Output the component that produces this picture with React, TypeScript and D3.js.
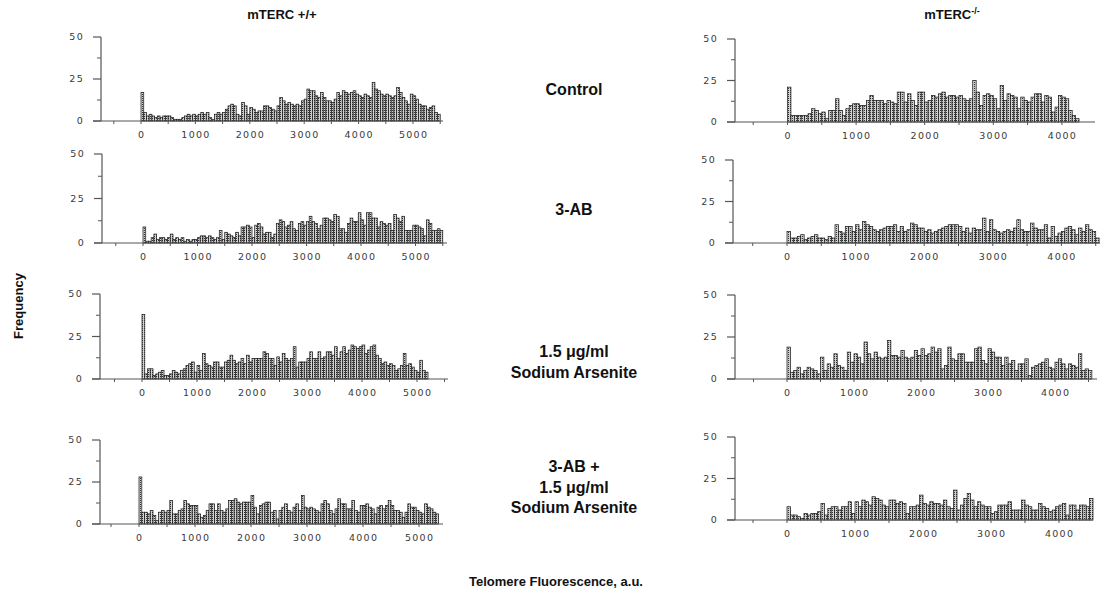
import React from 'react';
import * as d3 from 'd3';

const BIN = 50;
const Y_TICKS = [0, 25, 50];
const Y_MINOR = [12.5, 37.5];

// mTERC +/+ Control
const wtControl = [17,5,3,4, 3,2,3,2,3, 3,3,2,1, 1,1,2,3, 4,3,4,3, 4,5,4,5, 2,1,4,5, 4,5,7,9, 10,9,4,3, 11,9,4,8, 7,5,6,6, 9,9,8,7, 6,9,14,12, 10,11,10,9, 10,9,12,13, 19,18,18,15, 14,17,14,12, 12,11,13,17, 15,18,17,16, 17,18,16,15, 14,16,15,14, 23,19,18,16, 15,16,15,14, 15,20,17,14, 12,10,16,15, 13,10,9,9, 7,8,9,5,4];
// mTERC -/- Control
const koControl = [21, 4,4,4,4,4,5, 8, 7,5,6, 2,7, 7, 14, 7,4, 8,10,11, 11,10,10, 13,16,13, 13,13,11, 13,12,11, 18,18,12, 17,13,10, 18,18,12, 13,16,15, 17,18,15, 16,16,15, 16,14,13, 14,25, 18,10,16, 17,16,14, 8,22,13, 17,16,15, 8,15,13, 12,15,17, 17,12,16, 15,6,9, 16,15,14, 7,4,2];
// mTERC +/+ 3-AB
const wt3AB = [9, 1,1,3, 5,2,3,3, 2,3,5,2, 3,2,3,1,2, 1,2,2,3, 4,4,3,4, 3,2,3,7, 2,6,5,4, 3,6,4,9,9, 10,9,3,10, 11,9,5,6, 6,3,5,11, 13,12,9,10, 12,8,7,11, 12,10,12,15, 12,11,8,10, 14,14,13,12, 16,15,8,8, 6,11,14,12, 12,17,13,10, 17,17,14,14, 9,12,11,10, 11,7,16,14, 12,15,7,7, 7,10,10,9, 8,4,13,11, 7,7,8,7];
// mTERC -/- 3-AB
const ko3AB = [7,3,3,4,5,2,3,4,5,3,3,2,4,3, 11,7,6,10,10,7,11,8,13,11,10,8,7,8,9,10,10,11,7,10,7,8,12,11,9,9,7,8,6,7,8,9,10,11,11,11,10,7,9,6,9,8,8, 15,7,14,8,7,6,7,8,7,9,14,8,7,7,12,9,8,8,11,3,10,4,6,7,9,10,8,5,9,7,11,8,7,3];
// mTERC +/+ 1.5 ug/ml sodium arsenite
const wtArs = [38, 3,6, 6,2,3, 4,5,2,2, 3,5,4,3, 5,6,8,9, 10,4,8,5, 15,9,8,7, 10,10,7,7, 10,11,14,11, 9,10,12,9, 14,10,12,12, 12,12,16,15, 12,12,8,13, 10,15,12,11, 12,19,7,10, 10,10,12,16, 12,12,16,12, 13,16,16,14, 19,12,16,19, 15,17,20,19, 18,19,20,15, 17,19,20,14, 12,9,10,8, 9,8,5,6, 8,15,8,9, 7,5,4,11, 5,4];
// mTERC -/- 1.5 ug/ml sodium arsenite
const koArs = [19, 4,5,7, 3,5,7, 6,5,3, 13,5,9, 7,15,8, 7,5,16, 10,15,13, 9,22,15, 12,16,13, 12,13,23, 14,14,13, 17,13,12, 13,17,14, 18,14,15, 19,16,18, 6,8,19, 12,11,15, 15,10,10, 10,18,19, 11,9,18, 16,13,13, 8,13,9, 11,5,9, 9,12,2, 7,8,9, 10,12,7, 6,10,12, 9,6,9, 8,7,15, 5,6,5];
// mTERC +/+ 3-AB + sodium arsenite
const wtCombo = [28, 7,7,6,8, 5,2,7,8, 7,8,14,6, 6,8,9,14, 12,11,11,11, 6,4,5,8, 12,12,8,12, 8,7,9,14, 14,15,13,12, 13,13,13,17, 10,6,11,12, 13,13,7,8, 3,8,10,12, 8,7,10,12, 8,17,10,9, 10,9,8,7, 12,14,12,8, 6,9,15,12, 12,9,9,14, 8,7,11,11, 12,10,9,6, 10,11,9,11, 14,11,8,8, 7,4,7,12, 10,10,8,7, 6,12,10,9, 7,6];
// mTERC -/- 3-AB + sodium arsenite
const koCombo = [8,3,3,2,1,4,3,4,4,5, 10,3,7,8,8,6,8,8,11,4, 11,8,12,11,9,14,13,12,9,8, 12,12,10,11,10,4,8,8,9,15, 10,9,11,10,10,9,12,8,7,18, 6,9,13,16,12,8,11,9,8,8, 4,5,9,9,9,11,6,6,6,12, 9,8,6,6,10,8,7,5,6,8, 9,10,3,9,9,6,9,9,8,13];

const X_LABELS_WT = [0, 1000, 2000, 3000, 4000, 5000];
const X_LABELS_KO = [0, 1000, 2000, 3000, 4000];

const panels = [
  { data: wtControl, labels: X_LABELS_WT, left: 101, zero: 141, per1000: 54.4, right: 443, y0: 121, y50: 37 },
  { data: koControl, labels: X_LABELS_KO, left: 735, zero: 787.5, per1000: 68.6, right: 1095, y0: 122, y50: 39 },
  { data: wt3AB, labels: X_LABELS_WT, left: 102, zero: 143, per1000: 54.5, right: 447, y0: 243, y50: 154 },
  { data: ko3AB, labels: X_LABELS_KO, left: 733, zero: 787, per1000: 68.6, right: 1100, y0: 243, y50: 160 },
  { data: wtArs, labels: X_LABELS_WT, left: 100, zero: 142, per1000: 55, right: 448, y0: 379, y50: 294 },
  { data: koArs, labels: X_LABELS_KO, left: 735, zero: 787, per1000: 67, right: 1097, y0: 379, y50: 295 },
  { data: wtCombo, labels: X_LABELS_WT, left: 100, zero: 139, per1000: 56, right: 443, y0: 524, y50: 440 },
  { data: koCombo, labels: X_LABELS_KO, left: 735, zero: 787, per1000: 68, right: 1093, y0: 520, y50: 437 },
];

const FONT = "'Liberation Sans', Arial, sans-serif";
const TICK_FONT = "'DejaVu Sans', Verdana, sans-serif";

function Panel({ p }: { p: any }) {
  const x = d3
    .scaleLinear()
    .domain([((p.left - p.zero) / p.per1000) * 1000, ((p.right - p.zero) / p.per1000) * 1000])
    .range([p.left, p.right]);
  const y = d3.scaleLinear().domain([0, 50]).range([p.y0, p.y50]);
  const [dMin, dMax] = x.domain();
  const xTicks = d3.range(Math.ceil(dMin / 500) * 500, dMax, 500);
  return (
    <g>
      {p.data.map((v: number, i: number) => {
        const x1 = x(i * BIN);
        const x2 = x((i + 1) * BIN);
        return (
          <rect
            key={i}
            x={x1}
            y={y(v)}
            width={x2 - x1}
            height={y(0) - y(v)}
            fill="url(#dots)"
            stroke="#1e1e1e"
            strokeWidth={0.75}
          />
        );
      })}
      <line x1={p.left} x2={p.left} y1={y(0)} y2={y(50)} stroke="#555" strokeWidth={1.2} />
      {Y_TICKS.map((t) => (
        <g key={t}>
          <line x1={p.left - 8} x2={p.left} y1={y(t)} y2={y(t)} stroke="#555" strokeWidth={1.2} />
          <text
            x={p.left - 17}
            y={y(t)}
            dy="0.35em"
            textAnchor="end"
            fontFamily={TICK_FONT}
            fontSize={9.5}
            letterSpacing={1.3}
            fill="#3a3a3a"
          >
            {t}
          </text>
        </g>
      ))}
      {Y_MINOR.map((t) => (
        <line key={t} x1={p.left - 4} x2={p.left} y1={y(t)} y2={y(t)} stroke="#555" strokeWidth={1} />
      ))}
      <line x1={p.left - 8} x2={p.right} y1={y(0)} y2={y(0)} stroke="#555" strokeWidth={1.2} />
      {xTicks.map((t) => (
        <line key={t} x1={x(t)} x2={x(t)} y1={y(0)} y2={y(0) + 3} stroke="#555" strokeWidth={1} />
      ))}
      {p.labels.map((t: number) => (
        <text
          key={t}
          x={x(t) + 0.6}
          y={y(0) + 16.5}
          textAnchor="middle"
          fontFamily={TICK_FONT}
          fontSize={9.5}
          letterSpacing={1.3}
          fill="#3a3a3a"
        >
          {t}
        </text>
      ))}
    </g>
  );
}

export default function App() {
  return (
    <svg
      width={1109}
      height={598}
      style={{ position: 'absolute', left: 0, top: 0, background: '#fff' }}
    >
      <defs>
        <pattern id="dots" width={2} height={2} patternUnits="userSpaceOnUse">
          <rect width={2} height={2} fill="#d2d2d2" />
          <rect width={1} height={1} fill="#333" />
        </pattern>
      </defs>
      <rect width={1109} height={598} fill="#fff" />
      {panels.map((p, i) => (
        <Panel key={i} p={p} />
      ))}
      <g fontFamily={FONT} fontWeight="bold" fill="#111" textAnchor="middle">
        <text x={282} y={19} fontSize={13}>mTERC +/+</text>
        <text x={952} y={19} fontSize={13}>
          mTERC<tspan dy={-5} fontSize={9}>-/-</tspan>
        </text>
        <text x={574} y={95} fontSize={16}>Control</text>
        <text x={574} y={215} fontSize={16}>3-AB</text>
        <text x={574} y={357} fontSize={16}>1.5 μg/ml</text>
        <text x={574} y={378} fontSize={16}>Sodium Arsenite</text>
        <text x={574} y={472} fontSize={16}>3-AB +</text>
        <text x={574} y={493} fontSize={16}>1.5 μg/ml</text>
        <text x={574} y={513} fontSize={16}>Sodium Arsenite</text>
        <text x={556} y={586} fontSize={13}>Telomere Fluorescence, a.u.</text>
        <text transform="translate(23,306) rotate(-90)" fontSize={13}>Frequency</text>
      </g>
    </svg>
  );
}
